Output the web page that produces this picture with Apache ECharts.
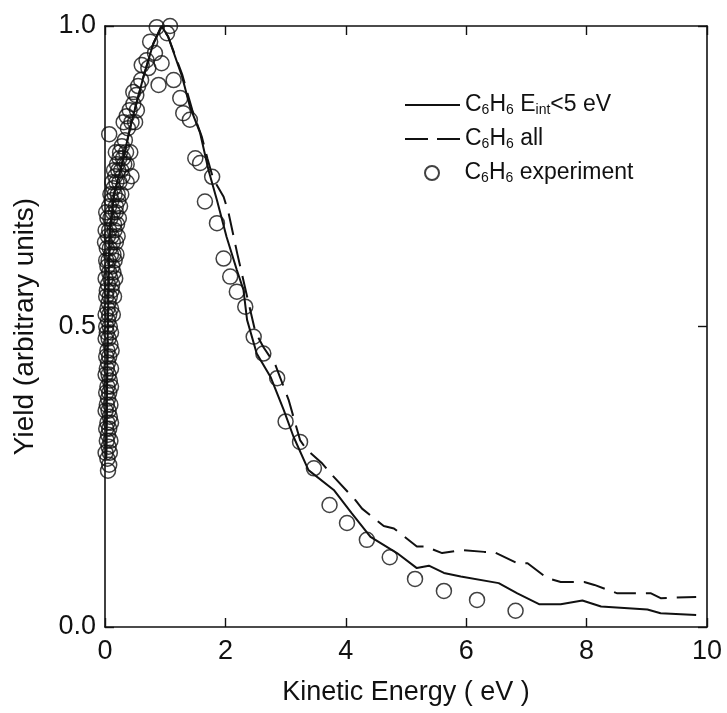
<!DOCTYPE html>
<html><head><meta charset="utf-8">
<script src="https://cdn.jsdelivr.net/npm/echarts@6/dist/echarts.min.js"></script>
<style>html,body{margin:0;padding:0;background:#fff}#c{width:727px;height:713px}</style>
</head><body><div id="c"></div>
<script>
const xTicks = [0, 2, 4, 6, 8, 10];
const yTicks = ['0.0', '0.5', '1.0'];
const seriesNames = ['C6H6 Eint<5 eV', 'C6H6 all', 'C6H6 experiment'];

const solidLine = [[0.02,0.28],[0.04,0.45],[0.06,0.58],[0.08,0.66],[0.15,0.72],[0.28,0.77],[0.44,0.84],[0.64,0.916],[0.80,0.97],[0.94,1.0],[1.05,0.982],[1.28,0.916],[1.41,0.866],[1.58,0.822],[1.72,0.76],[1.86,0.71],[2.02,0.649],[2.19,0.594],[2.30,0.561],[2.36,0.511],[2.52,0.455],[2.75,0.416],[2.97,0.361],[3.13,0.317],[3.38,0.261],[3.80,0.228],[4.10,0.189],[4.41,0.150],[4.85,0.123],[5.18,0.098],[5.38,0.102],[5.63,0.090],[5.91,0.084],[6.54,0.073],[6.85,0.056],[7.21,0.038],[7.57,0.038],[7.93,0.044],[8.24,0.034],[9.01,0.029],[9.23,0.023],[9.82,0.020]];

const dashedLine = [[0.02,0.28],[0.04,0.45],[0.06,0.58],[0.08,0.66],[0.15,0.72],[0.28,0.77],[0.44,0.84],[0.64,0.916],[0.80,0.97],[0.94,1.0],[1.05,0.982],[1.28,0.92],[1.45,0.86],[1.61,0.815],[1.70,0.78],[1.80,0.745],[1.97,0.716],[2.05,0.69],[2.20,0.62],[2.36,0.55],[2.50,0.49],[2.63,0.466],[2.83,0.436],[3.05,0.378],[3.24,0.311],[3.35,0.295],[3.61,0.272],[3.77,0.253],[4.16,0.211],[4.27,0.197],[4.63,0.168],[4.80,0.164],[5.18,0.134],[5.32,0.134],[5.60,0.123],[5.91,0.128],[6.30,0.125],[6.46,0.125],[6.85,0.106],[7.02,0.106],[7.35,0.081],[7.57,0.075],[7.96,0.075],[8.13,0.070],[8.51,0.056],[8.68,0.056],[9.07,0.056],[9.23,0.048],[9.82,0.050]];

const experiment = [[0.05,0.26],[0.07,0.27],[0.04,0.28],[0.01,0.29],[0.08,0.29],[0.06,0.30],[0.03,0.31],[0.09,0.31],[0.05,0.32],[0.02,0.33],[0.07,0.33],[0.04,0.34],[0.10,0.34],[0.08,0.35],[0.01,0.36],[0.06,0.36],[0.03,0.37],[0.09,0.37],[0.05,0.38],[0.02,0.39],[0.07,0.39],[0.04,0.40],[0.10,0.40],[0.08,0.41],[0.01,0.42],[0.06,0.42],[0.03,0.43],[0.10,0.43],[0.05,0.44],[0.02,0.45],[0.07,0.45],[0.04,0.46],[0.11,0.46],[0.09,0.47],[0.06,0.48],[0.01,0.48],[0.03,0.49],[0.10,0.49],[0.08,0.50],[0.02,0.50],[0.05,0.51],[0.01,0.52],[0.07,0.52],[0.13,0.52],[0.04,0.53],[0.10,0.53],[0.06,0.54],[0.02,0.55],[0.08,0.55],[0.15,0.55],[0.03,0.56],[0.11,0.56],[0.05,0.57],[0.12,0.57],[0.01,0.58],[0.09,0.58],[0.17,0.58],[0.07,0.59],[0.14,0.59],[0.04,0.60],[0.12,0.60],[0.06,0.61],[0.02,0.61],[0.16,0.61],[0.10,0.62],[0.14,0.62],[0.19,0.62],[0.03,0.63],[0.08,0.63],[0.00,0.64],[0.13,0.64],[0.18,0.64],[0.05,0.65],[0.11,0.65],[0.21,0.65],[0.07,0.66],[0.01,0.66],[0.16,0.66],[0.15,0.67],[0.20,0.67],[0.09,0.68],[0.04,0.68],[0.23,0.68],[0.13,0.69],[0.02,0.69],[0.18,0.69],[0.18,0.70],[0.07,0.70],[0.25,0.70],[0.11,0.71],[0.22,0.71],[0.16,0.72],[0.21,0.72],[0.09,0.72],[0.27,0.72],[0.14,0.73],[0.19,0.74],[0.24,0.74],[0.12,0.74],[0.36,0.74],[0.17,0.75],[0.29,0.75],[0.44,0.75],[0.22,0.76],[0.27,0.76],[0.15,0.76],[0.36,0.77],[0.20,0.77],[0.32,0.77],[0.30,0.78],[0.24,0.78],[0.42,0.79],[0.25,0.79],[0.35,0.79],[0.18,0.79],[0.28,0.80],[0.33,0.81],[0.07,0.82],[0.38,0.83],[0.31,0.84],[0.44,0.84],[0.50,0.84],[0.36,0.85],[0.53,0.86],[0.41,0.86],[0.47,0.87],[0.52,0.885],[0.47,0.89],[0.55,0.90],[0.89,0.902],[0.60,0.91],[0.72,0.93],[0.61,0.935],[0.94,0.938],[0.69,0.943],[0.83,0.955],[0.75,0.974],[1.03,0.988],[0.86,0.998],[1.08,1.0],[1.14,0.91],[1.25,0.88],[1.30,0.855],[1.41,0.844],[1.50,0.78],[1.58,0.772],[1.78,0.749],[1.66,0.708],[1.86,0.672],[1.97,0.613],[2.08,0.583],[2.19,0.558],[2.33,0.533],[2.47,0.483],[2.63,0.455],[2.86,0.414],[3.00,0.342],[3.24,0.308],[3.47,0.264],[3.73,0.203],[4.02,0.173],[4.35,0.145],[4.73,0.116],[5.15,0.080],[5.63,0.060],[6.18,0.045],[6.82,0.027]];

const FONT = '"Liberation Sans", Arial, Helvetica, sans-serif';
const INK = '#111';

const legendRich = {
  m: { fontFamily: FONT, fontSize: 23, color: INK, lineHeight: 24, verticalAlign: 'top' },
  s: { fontFamily: FONT, fontSize: 14, color: INK, lineHeight: 14, verticalAlign: 'bottom', padding: [12, 0, 0, 0] }
};
const legendLabels = {
  'C6H6 Eint<5 eV': '{m|C}{s|6}{m|H}{s|6}{m| E}{s|int}{m|<5 eV}',
  'C6H6 all': '{m|C}{s|6}{m|H}{s|6}{m| all}',
  'C6H6 experiment': '{m|C}{s|6}{m|H}{s|6}{m| experiment}'
};

const chart = echarts.init(document.getElementById('c'), null, { renderer: 'canvas' });
const axisLine = { show: true, onZero: false, lineStyle: { color: INK, width: 1.6 } };
const tick = { show: true, inside: true, length: 9, lineStyle: { color: INK, width: 1.4 } };

chart.setOption({
  animation: false,
  backgroundColor: '#fff',
  grid: { left: 105, right: 20, top: 26, bottom: 86 },
  legend: [{
    orient: 'vertical', left: 400, top: 86,
    itemWidth: 55, itemHeight: 2, itemGap: 8,
    data: [
      { name: seriesNames[0], icon: 'rect' },
      { name: seriesNames[1], icon: 'path://M0,0H23V2H0ZM32,0H55V2H32Z' }
    ],
    formatter: n => legendLabels[n],
    textStyle: { rich: legendRich }
  }, {
    orient: 'vertical', left: 419, top: 154,
    itemWidth: 55, itemHeight: 14, itemGap: 8,
    data: [seriesNames[2]],
    formatter: n => legendLabels[n],
    textStyle: { rich: legendRich }
  }],
  xAxis: [{
    type: 'value', min: 0, max: 10, interval: 2, position: 'bottom',
    name: 'Kinetic Energy ( eV )', nameLocation: 'middle', nameGap: 52,
    nameTextStyle: { fontFamily: FONT, fontSize: 27, color: INK },
    axisLine: axisLine, axisTick: tick, splitLine: { show: false },
    axisLabel: { fontFamily: FONT, fontSize: 27, color: INK, margin: 11,
      formatter: v => String(xTicks[xTicks.indexOf(v)]) }
  }, {
    type: 'value', min: 0, max: 10, interval: 2, position: 'top',
    axisLine: axisLine, axisTick: tick, splitLine: { show: false }, axisLabel: { show: false }
  }],
  yAxis: [{
    type: 'value', min: 0, max: 1, interval: 0.5, position: 'left',
    name: 'Yield (arbitrary units)', nameLocation: 'middle', nameGap: 66, nameRotate: 90,
    nameTextStyle: { fontFamily: FONT, fontSize: 28, color: INK },
    axisLine: axisLine, axisTick: tick, splitLine: { show: false },
    axisLabel: { fontFamily: FONT, fontSize: 27, color: INK, margin: 9,
      formatter: v => yTicks[Math.round(v * 2)] }
  }, {
    type: 'value', min: 0, max: 1, interval: 0.5, position: 'right',
    axisLine: axisLine, axisTick: tick, splitLine: { show: false }, axisLabel: { show: false }
  }],
  series: [{
    name: seriesNames[0], type: 'line', data: solidLine, symbol: 'none',
    lineStyle: { color: INK, width: 2 }, itemStyle: { color: INK }, z: 3
  }, {
    name: seriesNames[1], type: 'line', data: dashedLine, symbol: 'none',
    lineStyle: { color: INK, width: 2, type: [22, 10] }, itemStyle: { color: INK }, z: 3
  }, {
    name: seriesNames[2], type: 'scatter', data: experiment, symbol: 'circle', symbolSize: 15,
    itemStyle: { color: 'rgba(255,255,255,0)', borderColor: INK, borderWidth: 1.5 }, z: 2
  }]
});
</script>
</body></html>
